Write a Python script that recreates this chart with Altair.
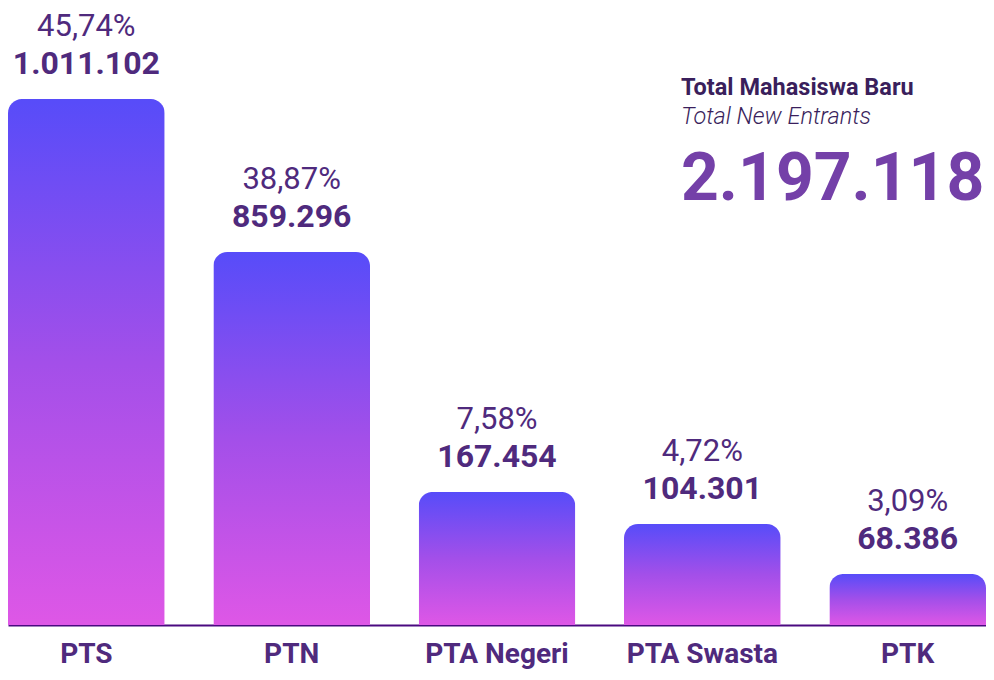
import altair as alt
import pandas as pd

# Data
categories = ["PTS", "PTN", "PTA Negeri", "PTA Swasta", "PTK"]
students = [1011102, 859296, 167454, 104301, 68386]
shares = [45.74, 38.87, 7.58, 4.72, 3.09]
# visual bar lengths as drawn in the reference (relative to tallest bar = 100)
bar_length = [100, 70.9, 25.3, 19.2, 9.7]

total_label = "2.197.118"
title_id = "Total Mahasiswa Baru"
title_en = "Total New Entrants"


def fmt_int(v):
    return f"{v:,}".replace(",", ".")


def fmt_pct(v):
    return f"{v:.2f}".replace(".", ",") + "%"


df = pd.DataFrame({
    "cat": categories,
    "students": students,
    "share": shares,
    "len": bar_length,
    "val_label": [fmt_int(v) for v in students],
    "pct_label": [fmt_pct(v) for v in shares],
})

TEXT = "#4f2a7d"
FONT = "Roboto"

x = alt.X("cat:N", sort=categories, title=None,
          scale=alt.Scale(paddingInner=0.237, paddingOuter=0),
          axis=alt.Axis(labelAngle=0, labelFontSize=28, labelFontWeight="bold",
                        labelColor=TEXT, labelFont=FONT, ticks=False,
                        labelPadding=15, domainColor="#4a0a80", domainWidth=2))
y = alt.Y("len:Q", axis=None, scale=alt.Scale(domain=[0, 117.3], nice=False))

grad = alt.Gradient(
    gradient="linear",
    stops=[alt.GradientStop(color="#574cf9", offset=0),
           alt.GradientStop(color="#a34fe9", offset=0.5),
           alt.GradientStop(color="#de57e6", offset=1)],
    x1=0, x2=0, y1=0, y2=1,
)

bars = alt.Chart(df).mark_bar(
    color=grad, cornerRadiusTopLeft=14, cornerRadiusTopRight=14
).encode(x=x, y=y)

vals = alt.Chart(df).mark_text(
    font=FONT, fontSize=32, fontWeight="bold", color=TEXT,
    baseline="alphabetic", dy=-25
).encode(x=x, y=y, text="val_label:N")

pcts = alt.Chart(df).mark_text(
    font=FONT, fontSize=31, fontWeight="normal", color=TEXT,
    baseline="alphabetic", dy=-63
).encode(x=x, y=y, text="pct_label:N")

ann1 = alt.Chart(pd.DataFrame({"t": [title_id]})).mark_text(
    font=FONT, fontSize=23.5, fontWeight="bold", color="#3a1f5c",
    align="left", baseline="alphabetic"
).encode(x=alt.value(673), y=alt.value(87), text="t:N")

ann2 = alt.Chart(pd.DataFrame({"t": [title_en]})).mark_text(
    font=FONT, fontSize=23.5, fontWeight=300, fontStyle="italic", color="#3a1f5c",
    align="left", baseline="alphabetic"
).encode(x=alt.value(673), y=alt.value(116), text="t:N")

ann3 = alt.Chart(pd.DataFrame({"t": [total_label]})).mark_text(
    font=FONT, fontSize=66, fontWeight="bold", color="#7440a8",
    align="left", baseline="alphabetic"
).encode(x=alt.value(673), y=alt.value(192), text="t:N")

chart = alt.layer(bars, vals, pcts, ann1, ann2, ann3).properties(
    width=978, height=617,
    padding={"left": 0, "top": 0, "right": 0, "bottom": 45},
    autosize=alt.AutoSizeParams(type="none"),
).configure(
    background="white",
    view=alt.ViewConfig(strokeWidth=0, stroke="transparent"),
)

chart.save("out.html", embed_options={"renderer": "svg", "actions": False})
